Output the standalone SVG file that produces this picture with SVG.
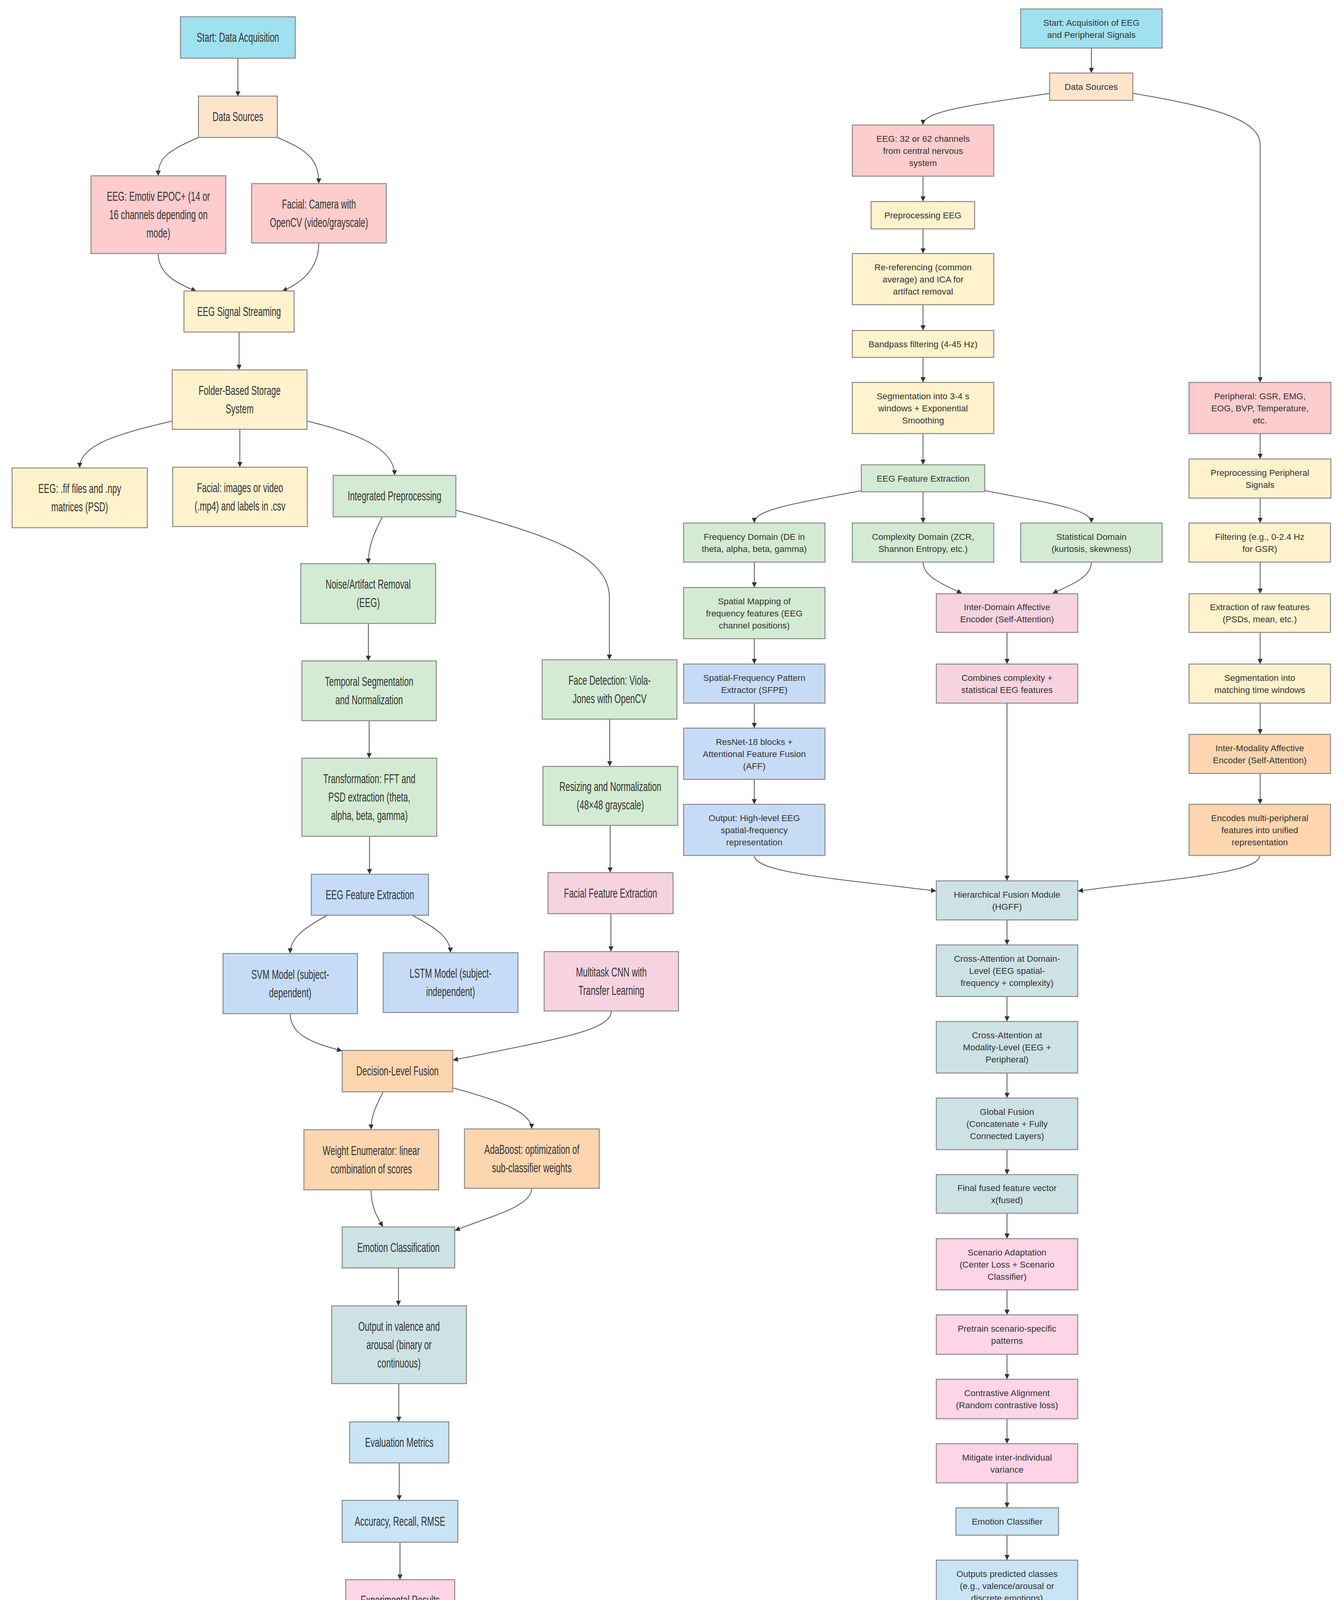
<svg xmlns="http://www.w3.org/2000/svg" width="3433" height="4946" viewBox="0 0 3433 4946">
<defs>
<marker id="ah" viewBox="0 0 10 10" refX="9.5" refY="5" markerWidth="14" markerHeight="13" markerUnits="userSpaceOnUse" orient="auto"><path d="M0,0 L10,5 L0,10 z" fill="#333"/></marker>
<style>
.n{stroke:#8a8a8a;stroke-width:2.5}
.cy{fill:#9fe1ee}.pe{fill:#fde5cb}.pk{fill:#fdcccd}.ye{fill:#fff2cc}.gr{fill:#d4ebd3}.bl{fill:#c6dcf6}
.p2{fill:#f7d3e0}.or{fill:#fdd6b0}.te{fill:#cde2e5}.lb{fill:#c9e4f5}.p3{fill:#fdd5e6}.pu{fill:#b8a1ef}.g1{fill:#dedede}.g2{fill:#cbcbcb}
.l{font-family:"Liberation Sans",Arial,sans-serif;font-size:33px;fill:#333;text-anchor:middle}
.r{font-family:"Liberation Sans",Arial,sans-serif;font-size:22.5px;fill:#333;text-anchor:middle}
.c path{fill:none;stroke:#555;stroke-width:2;marker-end:url(#ah)}
.cap{font-family:"Liberation Serif","Times New Roman",serif;font-size:80px;fill:#000;text-anchor:middle}
</style>
</defs>
<rect width="3433" height="4946" fill="#fff"/>
<g class="c" id="connectors">
<path d="M609,149 L609,246"/>
<path d="M508,352 C430,385 405,405 405,449"/>
<path d="M710,352 C790,385 816,410 816,469"/>
<path d="M405,649 C405,700 450,725 502,745"/>
<path d="M816,622 C816,690 770,725 723,745"/>
<path d="M612,850 L612,946"/>
<path d="M441,1078 C300,1110 204,1140 204,1197"/>
<path d="M614,1099 L614,1195"/>
<path d="M786,1078 C920,1110 1010,1150 1010,1216"/>
<path d="M979,1323 C955,1370 943,1400 943,1442"/>
<path d="M1167,1306 C1400,1370 1560,1420 1560,1530 L1560,1688"/>
<path d="M943,1596 L943,1691"/>
<path d="M945,1845 L945,1940"/>
<path d="M946,2141 L946,2237"/>
<path d="M838,2343 C780,2375 743,2400 743,2440"/>
<path d="M1055,2343 C1115,2375 1153,2400 1153,2438"/>
<path d="M1561,1841 L1561,1961"/>
<path d="M1562,2113 L1562,2233"/>
<path d="M1564,2339 L1564,2435"/>
<path d="M743,2595 C743,2650 800,2670 875,2690"/>
<path d="M1565,2588 C1565,2640 1420,2660 1160,2714"/>
<path d="M981,2795 C958,2840 950,2860 950,2891"/>
<path d="M1159,2785 C1290,2820 1361,2850 1361,2889"/>
<path d="M950,3046 C950,3090 965,3115 980,3140"/>
<path d="M1361,3042 C1361,3090 1250,3115 1165,3150"/>
<path d="M1020,3246 L1020,3342"/>
<path d="M1021,3542 L1021,3639"/>
<path d="M1022,3745 L1022,3840"/>
<path d="M1024,3948 L1024,4043"/>
<path d="M885,4123 C600,4180 420,4200 420,4249"/>
<path d="M922,4150 C860,4190 831,4210 831,4247"/>
<path d="M1127,4150 C1195,4200 1220,4240 1220,4291"/>
<path d="M1164,4127 C1390,4190 1494,4230 1494,4289"/>
<path d="M1220,4398 L1220,4540"/>
<path d="M2794,123 L2794,186"/>
<path d="M2687,239 C2480,270 2363,285 2363,319"/>
<path d="M2900,239 C3120,275 3226,310 3226,370 L3226,978"/>
<path d="M2363,451 L2363,515"/>
<path d="M2363,586 L2363,648"/>
<path d="M2363,780 L2363,845"/>
<path d="M2363,915 L2363,978"/>
<path d="M2363,1110 L2363,1189"/>
<path d="M2205,1256 C2030,1290 1931,1305 1931,1338"/>
<path d="M2363,1259 L2363,1338"/>
<path d="M2521,1256 C2700,1290 2794,1305 2794,1338"/>
<path d="M1931,1439 L1931,1503"/>
<path d="M2363,1439 C2363,1478 2420,1498 2462,1519"/>
<path d="M2794,1439 C2794,1478 2740,1498 2695,1519"/>
<path d="M2578,1619 L2578,1699"/>
<path d="M2578,1800 L2578,2254"/>
<path d="M1931,1635 L1931,1699"/>
<path d="M1931,1800 L1931,1863"/>
<path d="M1931,1995 L1931,2058"/>
<path d="M1931,2190 C1931,2235 2150,2250 2396,2281"/>
<path d="M3225,2190 C3225,2235 3000,2250 2760,2281"/>
<path d="M3226,1110 L3226,1174"/>
<path d="M3226,1275 L3226,1338"/>
<path d="M3226,1439 L3226,1519"/>
<path d="M3226,1619 L3226,1699"/>
<path d="M3226,1800 L3226,1879"/>
<path d="M3226,1980 L3226,2058"/>
<path d="M2578,2355 L2578,2418"/>
<path d="M2578,2551 L2578,2614"/>
<path d="M2578,2747 L2578,2810"/>
<path d="M2578,2943 L2578,3006"/>
<path d="M2578,3106 L2578,3170"/>
<path d="M2578,3302 L2578,3365"/>
<path d="M2578,3467 L2578,3530"/>
<path d="M2578,3632 L2578,3695"/>
<path d="M2578,3796 L2578,3859"/>
<path d="M2578,3930 L2578,3993"/>
<path d="M2578,4125 L2578,4188"/>
<path d="M2468,4259 C2400,4290 2369,4310 2369,4337"/>
<path d="M2687,4259 C2760,4285 2788,4300 2788,4321"/>
<path d="M2788,4424 L2788,4486"/>
<path d="M2788,4619 L2788,4682"/>
</g>
<g id="lstart"><rect class="n cy" x="462" y="43" width="294" height="106"/><text class="l" transform="matrix(0.65 0 0 1 609 0)"><tspan x="0" y="107.5">Start: Data Acquisition</tspan></text></g>
<g id="lds"><rect class="n pe" x="508" y="246" width="202" height="106"/><text class="l" transform="matrix(0.65 0 0 1 609 0)"><tspan x="0" y="310.5">Data Sources</tspan></text></g>
<g id="leeg"><rect class="n pk" x="233" y="450" width="345" height="199"/><text class="l" transform="matrix(0.65 0 0 1 405.5 0)"><tspan x="0" y="514">EEG: Emotiv EPOC+ (14 or</tspan><tspan x="0" y="561">16 channels depending on</tspan><tspan x="0" y="608">mode)</tspan></text></g>
<g id="lfac"><rect class="n pk" x="644" y="470" width="345" height="152"/><text class="l" transform="matrix(0.65 0 0 1 816.5 0)"><tspan x="0" y="534">Facial: Camera with</tspan><tspan x="0" y="581">OpenCV (video/grayscale)</tspan></text></g>
<g id="lstream"><rect class="n ye" x="471" y="745" width="282" height="105"/><text class="l" transform="matrix(0.65 0 0 1 612 0)"><tspan x="0" y="809">EEG Signal Streaming</tspan></text></g>
<g id="lfolder"><rect class="n ye" x="441" y="947" width="345" height="152"/><text class="l" transform="matrix(0.65 0 0 1 613.5 0)"><tspan x="0" y="1011">Folder-Based Storage</tspan><tspan x="0" y="1058">System</tspan></text></g>
<g id="lfif"><rect class="n ye" x="31" y="1198" width="346" height="153"/><text class="l" transform="matrix(0.65 0 0 1 204 0)"><tspan x="0" y="1262.5">EEG: .fif files and .npy</tspan><tspan x="0" y="1309.5">matrices (PSD)</tspan></text></g>
<g id="lfimg"><rect class="n ye" x="442" y="1196" width="345" height="152"/><text class="l" transform="matrix(0.65 0 0 1 614.5 0)"><tspan x="0" y="1260">Facial: images or video</tspan><tspan x="0" y="1307">(.mp4) and labels in .csv</tspan></text></g>
<g id="lint"><rect class="n gr" x="853" y="1217" width="314" height="106"/><text class="l" transform="matrix(0.65 0 0 1 1010 0)"><tspan x="0" y="1281.5">Integrated Preprocessing</tspan></text></g>
<g id="lnoise"><rect class="n gr" x="770" y="1443" width="345" height="153"/><text class="l" transform="matrix(0.65 0 0 1 942.5 0)"><tspan x="0" y="1507.5">Noise/Artifact Removal</tspan><tspan x="0" y="1554.5">(EEG)</tspan></text></g>
<g id="ltemp"><rect class="n gr" x="773" y="1692" width="344" height="153"/><text class="l" transform="matrix(0.65 0 0 1 945 0)"><tspan x="0" y="1756.5">Temporal Segmentation</tspan><tspan x="0" y="1803.5">and Normalization</tspan></text></g>
<g id="ltrans"><rect class="n gr" x="773" y="1941" width="345" height="200"/><text class="l" transform="matrix(0.65 0 0 1 945.5 0)"><tspan x="0" y="2005.5">Transformation: FFT and</tspan><tspan x="0" y="2052.5">PSD extraction (theta,</tspan><tspan x="0" y="2099.5">alpha, beta, gamma)</tspan></text></g>
<g id="leegfe"><rect class="n bl" x="797" y="2238" width="300" height="105"/><text class="l" transform="matrix(0.65 0 0 1 947 0)"><tspan x="0" y="2302">EEG Feature Extraction</tspan></text></g>
<g id="lsvm"><rect class="n bl" x="571" y="2441" width="344" height="154"/><text class="l" transform="matrix(0.65 0 0 1 743 0)"><tspan x="0" y="2506">SVM Model (subject-</tspan><tspan x="0" y="2553">dependent)</tspan></text></g>
<g id="llstm"><rect class="n bl" x="981" y="2439" width="345" height="153"/><text class="l" transform="matrix(0.65 0 0 1 1153.5 0)"><tspan x="0" y="2503.5">LSTM Model (subject-</tspan><tspan x="0" y="2550.5">independent)</tspan></text></g>
<g id="lface"><rect class="n gr" x="1388" y="1689" width="345" height="152"/><text class="l" transform="matrix(0.65 0 0 1 1560.5 0)"><tspan x="0" y="1753">Face Detection: Viola-</tspan><tspan x="0" y="1800">Jones with OpenCV</tspan></text></g>
<g id="lresize"><rect class="n gr" x="1390" y="1962" width="345" height="151"/><text class="l" transform="matrix(0.65 0 0 1 1562.5 0)"><tspan x="0" y="2025.5">Resizing and Normalization</tspan><tspan x="0" y="2072.5">(48×48 grayscale)</tspan></text></g>
<g id="lfacfe"><rect class="n p2" x="1403" y="2234" width="320" height="105"/><text class="l" transform="matrix(0.65 0 0 1 1563 0)"><tspan x="0" y="2298">Facial Feature Extraction</tspan></text></g>
<g id="lcnn"><rect class="n p2" x="1393" y="2436" width="344" height="152"/><text class="l" transform="matrix(0.65 0 0 1 1565 0)"><tspan x="0" y="2500">Multitask CNN with</tspan><tspan x="0" y="2547">Transfer Learning</tspan></text></g>
<g id="ldec"><rect class="n or" x="876" y="2689" width="283" height="106"/><text class="l" transform="matrix(0.65 0 0 1 1017.5 0)"><tspan x="0" y="2753.5">Decision-Level Fusion</tspan></text></g>
<g id="lweight"><rect class="n or" x="778" y="2892" width="345" height="154"/><text class="l" transform="matrix(0.65 0 0 1 950.5 0)"><tspan x="0" y="2957">Weight Enumerator: linear</tspan><tspan x="0" y="3004">combination of scores</tspan></text></g>
<g id="lada"><rect class="n or" x="1189" y="2890" width="345" height="152"/><text class="l" transform="matrix(0.65 0 0 1 1361.5 0)"><tspan x="0" y="2954">AdaBoost: optimization of</tspan><tspan x="0" y="3001">sub-classifier weights</tspan></text></g>
<g id="lemo"><rect class="n te" x="876" y="3141" width="288" height="105"/><text class="l" transform="matrix(0.65 0 0 1 1020 0)"><tspan x="0" y="3205">Emotion Classification</tspan></text></g>
<g id="lout"><rect class="n te" x="849" y="3343" width="345" height="199"/><text class="l" transform="matrix(0.65 0 0 1 1021.5 0)"><tspan x="0" y="3407">Output in valence and</tspan><tspan x="0" y="3454">arousal (binary or</tspan><tspan x="0" y="3501">continuous)</tspan></text></g>
<g id="leval"><rect class="n lb" x="895" y="3640" width="254" height="105"/><text class="l" transform="matrix(0.65 0 0 1 1022 0)"><tspan x="0" y="3704">Evaluation Metrics</tspan></text></g>
<g id="lacc"><rect class="n lb" x="876" y="3841" width="296" height="107"/><text class="l" transform="matrix(0.65 0 0 1 1024 0)"><tspan x="0" y="3906">Accuracy, Recall, RMSE</tspan></text></g>
<g id="lexp"><rect class="n p3" x="885" y="4044" width="279" height="106"/><text class="l" transform="matrix(0.65 0 0 1 1024.5 0)"><tspan x="0" y="4108.5">Experimental Results</tspan></text></g>
<g id="lsd"><rect class="n p3" x="248" y="4250" width="345" height="200"/><text class="l" transform="matrix(0.65 0 0 1 420.5 0)"><tspan x="0" y="4314.5">Subject-dependent: ~71%</tspan><tspan x="0" y="4361.5">(valence) and ~72%</tspan><tspan x="0" y="4408.5">(arousal)</tspan></text></g>
<g id="lsi"><rect class="n p3" x="659" y="4248" width="345" height="199"/><text class="l" transform="matrix(0.65 0 0 1 831.5 0)"><tspan x="0" y="4312">Subject-independent</tspan><tspan x="0" y="4359">(LSTM): ~78% (valence)</tspan><tspan x="0" y="4406">and ~77% (arousal)</tspan></text></g>
<g id="lrt"><rect class="n pu" x="1070" y="4292" width="300" height="106"/><text class="l" transform="matrix(0.65 0 0 1 1220 0)"><tspan x="0" y="4356.5">Real-Time Visualization</tspan></text></g>
<g id="lend"><rect class="n g1" x="1438" y="4290" width="113" height="106"/><text class="l" transform="matrix(0.65 0 0 1 1494.5 0)"><tspan x="0" y="4354.5">End</tspan></text></g>
<g id="lgui"><rect class="n pu" x="1049" y="4541" width="345" height="199"/><text class="l" transform="matrix(0.65 0 0 1 1221.5 0)"><tspan x="0" y="4605">GUI: EEG (PSDs and</tspan><tspan x="0" y="4652">channel mapping) + facial</tspan><tspan x="0" y="4699">detection</tspan></text></g>
<g id="rstart"><rect class="n cy" x="2613" y="23" width="362" height="100"/><text class="r"><tspan x="2794" y="65.5">Start: Acquisition of EEG</tspan><tspan x="2794" y="96.5">and Peripheral Signals</tspan></text></g>
<g id="rds"><rect class="n pe" x="2687" y="187" width="213" height="70"/><text class="r"><tspan x="2793.5" y="230">Data Sources</tspan></text></g>
<g id="reeg"><rect class="n pk" x="2182" y="320" width="362" height="131"/><text class="r"><tspan x="2363" y="362.5">EEG: 32 or 62 channels</tspan><tspan x="2363" y="393.5">from central nervous</tspan><tspan x="2363" y="424.5">system</tspan></text></g>
<g id="rpre"><rect class="n ye" x="2230" y="516" width="265" height="70"/><text class="r"><tspan x="2362.5" y="559">Preprocessing EEG</tspan></text></g>
<g id="rreref"><rect class="n ye" x="2182" y="649" width="362" height="131"/><text class="r"><tspan x="2363" y="691.5">Re-referencing (common</tspan><tspan x="2363" y="722.5">average) and ICA for</tspan><tspan x="2363" y="753.5">artifact removal</tspan></text></g>
<g id="rband"><rect class="n ye" x="2182" y="846" width="362" height="69"/><text class="r"><tspan x="2363" y="888.5">Bandpass filtering (4-45 Hz)</tspan></text></g>
<g id="rseg"><rect class="n ye" x="2182" y="979" width="362" height="131"/><text class="r"><tspan x="2363" y="1021.5">Segmentation into 3-4 s</tspan><tspan x="2363" y="1052.5">windows + Exponential</tspan><tspan x="2363" y="1083.5">Smoothing</tspan></text></g>
<g id="rfe"><rect class="n gr" x="2205" y="1190" width="316" height="69"/><text class="r"><tspan x="2363" y="1232.5">EEG Feature Extraction</tspan></text></g>
<g id="rperi"><rect class="n pk" x="3044" y="979" width="363" height="131"/><text class="r"><tspan x="3225.5" y="1021.5">Peripheral: GSR, EMG,</tspan><tspan x="3225.5" y="1052.5">EOG, BVP, Temperature,</tspan><tspan x="3225.5" y="1083.5">etc.</tspan></text></g>
<g id="rpreper"><rect class="n ye" x="3044" y="1175" width="363" height="100"/><text class="r"><tspan x="3225.5" y="1217.5">Preprocessing Peripheral</tspan><tspan x="3225.5" y="1248.5">Signals</tspan></text></g>
<g id="rfreq"><rect class="n gr" x="1750" y="1339" width="362" height="100"/><text class="r"><tspan x="1931" y="1381.5">Frequency Domain (DE in</tspan><tspan x="1931" y="1412.5">theta, alpha, beta, gamma)</tspan></text></g>
<g id="rcomp"><rect class="n gr" x="2182" y="1339" width="362" height="100"/><text class="r"><tspan x="2363" y="1381.5">Complexity Domain (ZCR,</tspan><tspan x="2363" y="1412.5">Shannon Entropy, etc.)</tspan></text></g>
<g id="rstat"><rect class="n gr" x="2613" y="1339" width="362" height="100"/><text class="r"><tspan x="2794" y="1381.5">Statistical Domain</tspan><tspan x="2794" y="1412.5">(kurtosis, skewness)</tspan></text></g>
<g id="rfilt"><rect class="n ye" x="3044" y="1339" width="362" height="100"/><text class="r"><tspan x="3225" y="1381.5">Filtering (e.g., 0-2.4 Hz</tspan><tspan x="3225" y="1412.5">for GSR)</tspan></text></g>
<g id="rspat"><rect class="n gr" x="1750" y="1504" width="362" height="131"/><text class="r"><tspan x="1931" y="1546.5">Spatial Mapping of</tspan><tspan x="1931" y="1577.5">frequency features (EEG</tspan><tspan x="1931" y="1608.5">channel positions)</tspan></text></g>
<g id="rinter"><rect class="n p2" x="2397" y="1520" width="362" height="99"/><text class="r"><tspan x="2578" y="1562">Inter-Domain Affective</tspan><tspan x="2578" y="1593">Encoder (Self-Attention)</tspan></text></g>
<g id="rraw"><rect class="n ye" x="3044" y="1520" width="362" height="99"/><text class="r"><tspan x="3225" y="1562">Extraction of raw features</tspan><tspan x="3225" y="1593">(PSDs, mean, etc.)</tspan></text></g>
<g id="rsfpe"><rect class="n bl" x="1750" y="1700" width="362" height="100"/><text class="r"><tspan x="1931" y="1742.5">Spatial-Frequency Pattern</tspan><tspan x="1931" y="1773.5">Extractor (SFPE)</tspan></text></g>
<g id="rcombo"><rect class="n p2" x="2397" y="1700" width="362" height="100"/><text class="r"><tspan x="2578" y="1742.5">Combines complexity +</tspan><tspan x="2578" y="1773.5">statistical EEG features</tspan></text></g>
<g id="rsegm"><rect class="n ye" x="3044" y="1700" width="362" height="100"/><text class="r"><tspan x="3225" y="1742.5">Segmentation into</tspan><tspan x="3225" y="1773.5">matching time windows</tspan></text></g>
<g id="rres"><rect class="n bl" x="1750" y="1864" width="362" height="131"/><text class="r"><tspan x="1931" y="1906.5">ResNet-18 blocks +</tspan><tspan x="1931" y="1937.5">Attentional Feature Fusion</tspan><tspan x="1931" y="1968.5">(AFF)</tspan></text></g>
<g id="rimod"><rect class="n or" x="3044" y="1880" width="362" height="100"/><text class="r"><tspan x="3225" y="1922.5">Inter-Modality Affective</tspan><tspan x="3225" y="1953.5">Encoder (Self-Attention)</tspan></text></g>
<g id="rout"><rect class="n bl" x="1750" y="2059" width="362" height="131"/><text class="r"><tspan x="1931" y="2101.5">Output: High-level EEG</tspan><tspan x="1931" y="2132.5">spatial-frequency</tspan><tspan x="1931" y="2163.5">representation</tspan></text></g>
<g id="renc"><rect class="n or" x="3044" y="2059" width="362" height="131"/><text class="r"><tspan x="3225" y="2101.5">Encodes multi-peripheral</tspan><tspan x="3225" y="2132.5">features into unified</tspan><tspan x="3225" y="2163.5">representation</tspan></text></g>
<g id="rhgff"><rect class="n te" x="2397" y="2255" width="362" height="100"/><text class="r"><tspan x="2578" y="2297.5">Hierarchical Fusion Module</tspan><tspan x="2578" y="2328.5">(HGFF)</tspan></text></g>
<g id="rcad"><rect class="n te" x="2397" y="2419" width="362" height="132"/><text class="r"><tspan x="2578" y="2462">Cross-Attention at Domain-</tspan><tspan x="2578" y="2493">Level (EEG spatial-</tspan><tspan x="2578" y="2524">frequency + complexity)</tspan></text></g>
<g id="rcam"><rect class="n te" x="2397" y="2615" width="362" height="132"/><text class="r"><tspan x="2578" y="2658">Cross-Attention at</tspan><tspan x="2578" y="2689">Modality-Level (EEG +</tspan><tspan x="2578" y="2720">Peripheral)</tspan></text></g>
<g id="rglob"><rect class="n te" x="2397" y="2811" width="362" height="132"/><text class="r"><tspan x="2578" y="2854">Global Fusion</tspan><tspan x="2578" y="2885">(Concatenate + Fully</tspan><tspan x="2578" y="2916">Connected Layers)</tspan></text></g>
<g id="rfinal"><rect class="n te" x="2397" y="3007" width="362" height="99"/><text class="r"><tspan x="2578" y="3049">Final fused feature vector</tspan><tspan x="2578" y="3080">x(fused)</tspan></text></g>
<g id="rscen"><rect class="n p3" x="2397" y="3171" width="362" height="131"/><text class="r"><tspan x="2578" y="3213.5">Scenario Adaptation</tspan><tspan x="2578" y="3244.5">(Center Loss + Scenario</tspan><tspan x="2578" y="3275.5">Classifier)</tspan></text></g>
<g id="rpret"><rect class="n p3" x="2397" y="3366" width="362" height="101"/><text class="r"><tspan x="2578" y="3409">Pretrain scenario-specific</tspan><tspan x="2578" y="3440">patterns</tspan></text></g>
<g id="rcont"><rect class="n p3" x="2397" y="3531" width="362" height="101"/><text class="r"><tspan x="2578" y="3574">Contrastive Alignment</tspan><tspan x="2578" y="3605">(Random contrastive loss)</tspan></text></g>
<g id="rmit"><rect class="n p3" x="2397" y="3696" width="362" height="100"/><text class="r"><tspan x="2578" y="3738.5">Mitigate inter-individual</tspan><tspan x="2578" y="3769.5">variance</tspan></text></g>
<g id="rec"><rect class="n lb" x="2447" y="3860" width="263" height="70"/><text class="r"><tspan x="2578.5" y="3903">Emotion Classifier</tspan></text></g>
<g id="routp"><rect class="n lb" x="2397" y="3994" width="362" height="131"/><text class="r"><tspan x="2578" y="4036.5">Outputs predicted classes</tspan><tspan x="2578" y="4067.5">(e.g., valence/arousal or</tspan><tspan x="2578" y="4098.5">discrete emotions)</tspan></text></g>
<g id="reval"><rect class="n lb" x="2445" y="4189" width="266" height="70"/><text class="r"><tspan x="2578" y="4232">Evaluation Metrics</tspan></text></g>
<g id="racc"><rect class="n lb" x="2201" y="4338" width="336" height="71"/><text class="r"><tspan x="2369" y="4381.5">Accuracy, Macro F1-score</tspan></text></g>
<g id="rcmp"><rect class="n lb" x="2607" y="4322" width="362" height="102"/><text class="r"><tspan x="2788" y="4365.5">Comparison with baselines</tspan><tspan x="2788" y="4396.5">(JE, DCCA, DFAF, etc.)</tspan></text></g>
<g id="rres2"><rect class="n g2" x="2607" y="4487" width="362" height="132"/><text class="r"><tspan x="2788" y="4530">Results: Highest accuracy</tspan><tspan x="2788" y="4561">across multiple datasets</tspan><tspan x="2792" y="4592">(DEAP, SEED-IV, SEED-V)</tspan></text></g>
<g id="rend"><rect class="n g1" x="2727" y="4683" width="121" height="70"/><text class="r"><tspan x="2787.5" y="4726">End</tspan></text></g>
<text class="cap" x="893" y="4910">(a)</text>
<text class="cap" x="2830" y="4910">(b)</text>
</svg>
